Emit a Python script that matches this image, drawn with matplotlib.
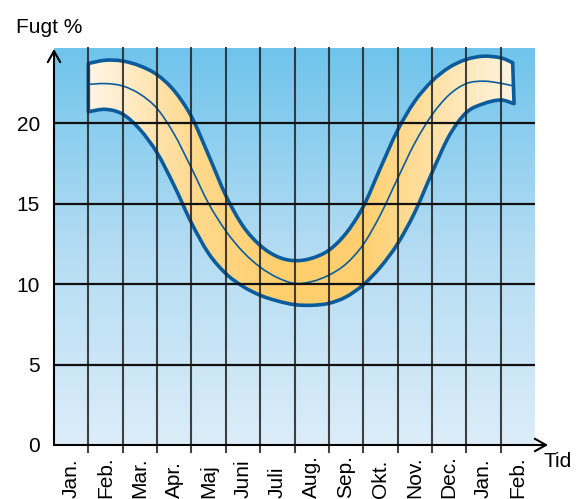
import numpy as np
import matplotlib
matplotlib.use('Agg')
import matplotlib.pyplot as plt
import matplotlib.transforms as mtransforms
from matplotlib.colors import LinearSegmentedColormap
from matplotlib.patches import PathPatch
from matplotlib.path import Path

plt.rcParams['font.family'] = ['Liberation Sans', 'DejaVu Sans']

# month labels (centred in each month), y ticks
months = ['Jan.', 'Feb.', 'Mar.', 'Apr.', 'Maj', 'Juni', 'Juli', 'Aug.',
          'Sep.', 'Okt.', 'Nov.', 'Dec.', 'Jan.', 'Feb.']
yticks = [0, 5, 10, 15, 20]

# humidity band (x in months from Jan. 1st)
upper_x = [1.0, 1.5, 2.0, 2.5, 3.0, 3.5, 4.0, 4.5, 5.0, 5.5, 6.0, 6.5, 7.0,
           7.5, 8.0, 8.5, 9.0, 9.5, 10.0, 10.5, 11.0, 11.5, 12.0, 12.5, 13.0, 13.35]
upper_y = [23.7, 23.9, 23.85, 23.55, 23.0, 22.0, 20.4, 18.0, 15.5, 13.6, 12.4, 11.7, 11.45,
           11.6, 12.1, 13.15, 14.8, 17.2, 19.55, 21.35, 22.6, 23.45, 23.95, 24.15, 24.05, 23.75]

center_x = [1.0, 1.5, 2.0, 2.5, 3.0, 3.5, 4.0, 4.5, 5.0, 5.5, 6.0, 6.5, 7.0,
            7.5, 8.0, 8.5, 9.0, 9.5, 10.0, 10.5, 11.0, 11.5, 12.0, 12.5, 13.0, 13.37]
center_y = [22.4, 22.45, 22.3, 21.8, 20.9, 19.3, 17.2, 15.0, 13.3, 12.0, 11.05, 10.4, 10.04,
            10.15, 10.55, 11.25, 12.45, 14.3, 16.55, 18.75, 20.5, 21.75, 22.45, 22.6, 22.47, 22.3]

lower_x = [1.0, 1.5, 2.0, 2.5, 3.0, 3.5, 4.0, 4.5, 5.0, 5.5, 6.0, 6.5, 7.0,
           7.5, 8.0, 8.5, 9.0, 9.5, 10.0, 10.5, 11.0, 11.5, 12.0, 12.5, 13.0, 13.39]
lower_y = [20.7, 20.85, 20.55, 19.6, 18.15, 16.1, 13.8, 11.9, 10.65, 9.85, 9.3, 8.95, 8.72,
           8.68, 8.8, 9.2, 9.95, 11.05, 12.5, 14.45, 16.9, 19.2, 20.65, 21.2, 21.43, 21.2]

blue = '#0b5c9c'
ytop = 24.66


def smooth(xs, ys):
    # cubic bezier segments through the read points (Catmull-Rom tangents)
    p = np.column_stack([xs, ys])
    n = len(p)
    verts = [p[0]]
    for i in range(n - 1):
        a = p[max(i - 1, 0)]
        b = p[min(i + 2, n - 1)]
        verts.append(p[i] + (p[i + 1] - a) / 6)
        verts.append(p[i + 1] - (b - p[i]) / 6)
        verts.append(p[i + 1])
    return np.array(verts)


fig = plt.figure(figsize=(5.76, 4.99), dpi=100)
ax = fig.add_axes([54/576, 54/499, 481/576, 397/499])
ax.set_xlim(0, 14)
ax.set_ylim(0, ytop)
for s in ax.spines.values():
    s.set_visible(False)

# blue background gradient
bg = LinearSegmentedColormap.from_list('bg', ['#dcedf9', '#b3dcf3', '#6fc4ec'])
ax.imshow(np.linspace(0, 1, 256).reshape(-1, 1), cmap=bg, origin='lower',
          extent=[0, 14, 0, ytop], aspect='auto', zorder=0)

# band outline: upper curve, right end, lower curve back, left end
up = smooth(upper_x, upper_y)
lo = smooth(lower_x[::-1], lower_y[::-1])
verts = np.vstack([up, lo, up[:1]])
codes = ([Path.MOVETO] + [Path.CURVE4] * (len(up) - 1) + [Path.LINETO]
         + [Path.CURVE4] * (len(lo) - 1) + [Path.CLOSEPOLY])
patch = PathPatch(Path(verts, codes), facecolor='none', edgecolor=blue, lw=2.6,
                  joinstyle='round', zorder=3)
ax.add_patch(patch)

band = LinearSegmentedColormap.from_list('band', [
    (0.0, '#fff6e6'), (0.25, '#ffd98c'), (0.45, '#ffcf6e'),
    (0.65, '#ffd070'), (0.8, '#ffe0a3'), (1.0, '#fff4df')])
im = ax.imshow(np.linspace(0, 1, 256).reshape(1, -1), cmap=band,
               extent=[1, 13.4, 8, 25], aspect='auto', zorder=2)
im.set_clip_path(patch)

cen = smooth(center_x, center_y)
ax.add_patch(PathPatch(Path(cen, [Path.MOVETO] + [Path.CURVE4] * (len(cen) - 1)),
                       facecolor='none', edgecolor=blue, lw=1.2, zorder=4))

# grid
for m in range(1, 14):
    ax.plot([m, m], [-0.43, ytop], color='#222222', lw=1.5, alpha=0.85,
            clip_on=False, zorder=5)
for y in yticks[1:]:
    ax.plot([0, 14], [y, y], color='#111111', lw=1.6, zorder=5)

# axes with arrows
arrow = dict(arrowstyle='->,head_length=0.8,head_width=0.45', lw=1.5,
             color='black', shrinkA=0, shrinkB=0, mutation_scale=10)
ax.annotate('', xy=(0, 24.6), xytext=(0, 0), arrowprops=arrow,
            annotation_clip=False, zorder=6)
ax.annotate('', xy=(14.38, 0), xytext=(0, 0), arrowprops=arrow,
            annotation_clip=False, zorder=6)

ax.set_xticks([])
ax.set_yticks(yticks)
ax.set_yticklabels([str(v) for v in yticks])
ax.tick_params(axis='y', length=0, pad=10, labelsize=15)

trans = mtransforms.blended_transform_factory(ax.transData, fig.transFigure)
for i, m in enumerate(months):
    ax.text(i + 0.5, 0.002, m, rotation=90, ha='center', va='bottom',
            fontsize=15, transform=trans)

fig.text(16/576, 1 - 33/499, 'Fugt %', fontsize=15, va='baseline', ha='left')
fig.text(543/576, 1 - 467/499, 'Tid', fontsize=15, va='baseline', ha='left')

fig.savefig('out.png', dpi=100)
